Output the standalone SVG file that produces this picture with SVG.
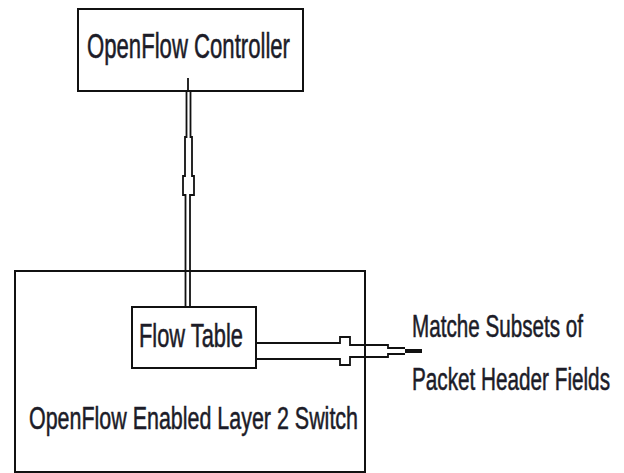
<svg xmlns="http://www.w3.org/2000/svg" width="624" height="473" viewBox="0 0 624 473">
  <style>
    .box { fill: #ffffff; stroke: #111111; stroke-width: 2; }
    .lbl { font-family: "Liberation Sans", Arial, sans-serif; fill: #1c1c28; stroke: #1c1c28; stroke-width: 0.35; }
    .conn { fill: none; stroke: #111111; stroke-width: 1.8; }
  </style>
  <rect x="0" y="0" width="624" height="473" fill="#ffffff"/>
  <g id="switch">
    <rect class="box" x="15" y="271" width="350" height="201"/>
    <text class="lbl" transform="translate(29,429) scale(1,1.46)" x="0" y="0" font-size="21" textLength="329" lengthAdjust="spacingAndGlyphs">OpenFlow Enabled Layer 2  Switch</text>
  </g>
  <g id="controller">
    <rect class="box" x="78" y="9" width="225" height="82"/>
    <text class="lbl" transform="translate(87,58) scale(1,1.59)" x="0" y="0" font-size="22" textLength="203" lengthAdjust="spacingAndGlyphs">OpenFlow Controller</text>
  </g>
  <g id="connectors">
    <path class="conn" d="M188,78 V91"/>
    <path class="conn" d="M186.5,91 V137 H185 V176 H183 V195 H185.5 V307"/>
    <path class="conn" d="M190.5,91 V137 H192 V176 H194 V195 H190 V307"/>
    <path class="conn" d="M257,343 H340 V337 H350 V345 H388 V348 H405"/>
    <path class="conn" d="M257,359 H340 V365 H350 V357 H388 V354 H405"/>
    <rect x="405" y="349" width="17" height="4" fill="#111111"/>
  </g>
  <g id="flowtable">
    <rect class="box" x="132" y="307" width="124" height="61"/>
    <text class="lbl" transform="translate(139,347) scale(1,1.57)" x="0" y="0" font-size="21.3" textLength="104" lengthAdjust="spacingAndGlyphs">Flow Table</text>
  </g>
  <g id="label-fields">
    <text class="lbl" transform="translate(412,337) scale(1,1.49)" x="0" y="0" font-size="20.6" textLength="171" lengthAdjust="spacingAndGlyphs">Matche Subsets of</text>
    <text class="lbl" transform="translate(412,390) scale(1,1.48)" x="0" y="0" font-size="20.7" textLength="198" lengthAdjust="spacingAndGlyphs">Packet Header Fields</text>
  </g>
</svg>
